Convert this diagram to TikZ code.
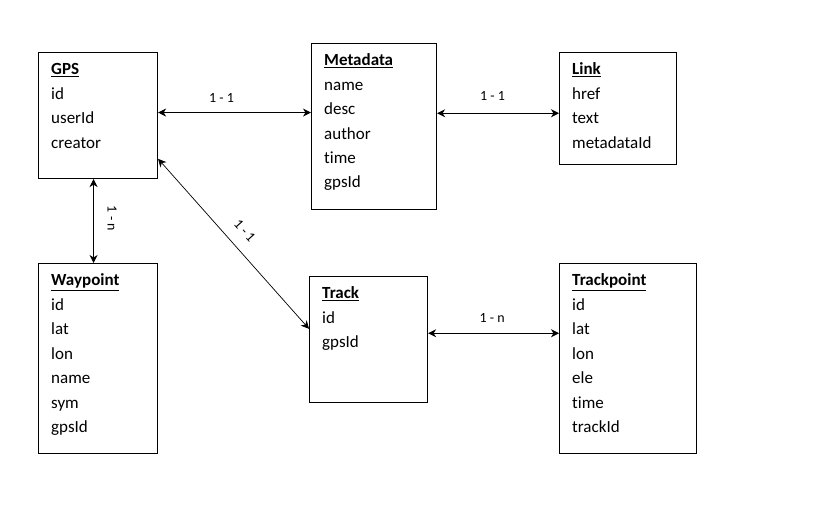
\documentclass[tikz,border=0pt]{standalone}
\usepackage{fontspec}
\setmainfont{Carlito}[Ligatures=NoCommon]
\usetikzlibrary{arrows.meta,calc}
\tikzset{
  box/.style={draw, line width=1.1pt, inner sep=0pt, anchor=north west},
  ttl/.style={anchor=base west, inner sep=0pt, font=\fontsize{17}{20}\selectfont\bfseries},
  fld/.style={anchor=base west, inner sep=0pt, font=\fontsize{17}{20}\selectfont},
  lbl/.style={inner sep=0pt, font=\fontsize{14}{16}\selectfont},
  rel/.style={{Stealth[length=8pt,width=8pt,inset=2.5pt]}-{Stealth[length=8pt,width=8pt,inset=2.5pt]}, line width=0.9pt},
}
\newcommand\mkentity[3]{%
  \node[ttl] (#1-t) at ($(#1.north west)+(13,23)$) {\underline{#2}};
  \foreach \t [count=\i] in {#3}
    \node[fld] (#1-\i) at ($(#1.north west)+(13,23+24.4*\i)$) {\t};
}
\begin{document}
\begin{tikzpicture}[x=1pt,y=-1pt]
\useasboundingbox (0,0) rectangle (825,521);
% boxes
\node[box, minimum width=119pt, minimum height=126pt] (gps) at (38,52) {};
\node[box, minimum width=125pt, minimum height=166pt] (meta) at (311,43) {};
\node[box, minimum width=117pt, minimum height=112pt] (link) at (559,52) {};
\node[box, minimum width=119pt, minimum height=190pt] (wp) at (38,263) {};
\node[box, minimum width=118pt, minimum height=126pt] (track) at (309,276) {};
\node[box, minimum width=137pt, minimum height=190pt] (tp) at (559,263) {};
% texts
\mkentity{gps}{GPS}{id,userId,creator}
\mkentity{meta}{Metadata}{name,desc,author,time,gpsId}
\mkentity{link}{Link}{href,text,metadataId}
\mkentity{wp}{Waypoint}{id,lat,lon,name,sym,gpsId}
\mkentity{track}{Track}{id,gpsId}
\mkentity{tp}{Trackpoint}{id,lat,lon,ele,time,trackId}
% connectors
\coordinate (a1) at ([yshift=3pt]gps.east);
\draw[rel] (a1) -- node[lbl, pos=0.415, anchor=base, yshift=10.5pt] (l1) {1 - 1} (a1 -| meta.west);
\coordinate (a2) at ([yshift=-4.7pt]link.west);
\draw[rel] (a2 -| meta.east) -- node[lbl, pos=0.455, anchor=base, yshift=12.5pt] (l2) {1 - 1} (a2);
\coordinate (a3) at ([yshift=6.3pt]track.east);
\draw[rel] (a3) -- node[lbl, pos=0.49, anchor=base, yshift=11pt] (l3) {1 - n} (a3 -| tp.west);
\coordinate (a4) at ([xshift=-4.5pt]gps.south);
\draw[rel] (a4) -- (a4 |- wp.north);
\node[lbl, rotate=-90] (l4) at ($($(a4)!0.47!(a4 |- wp.north)$)+(18.7,0)$) {1 - n};
\coordinate (d1) at ([yshift=-43.3pt]gps.east);
\coordinate (d2) at ([yshift=10.7pt]track.west);
\draw[rel, line width=0.7pt] (d1) -- (d2);
\node[lbl, rotate=-48.3] (l5) at ($ ($(d1)!0.49!(d2)$)!17pt!90:(d2) $) {1 - 1};
\end{tikzpicture}
\end{document}
